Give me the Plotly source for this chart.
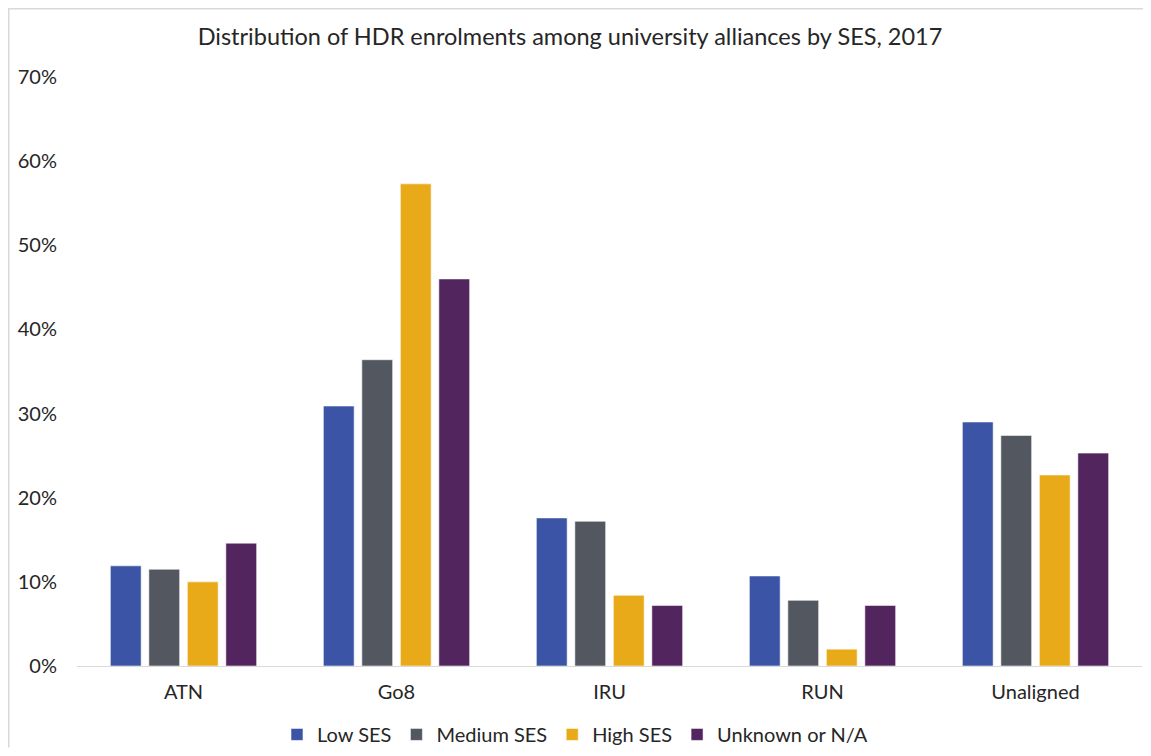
import plotly.graph_objects as go

categories = ["ATN", "Go8", "IRU", "RUN", "Unaligned"]
low_ses = [0.119, 0.309, 0.176, 0.107, 0.290]
medium_ses = [0.115, 0.364, 0.172, 0.078, 0.274]
high_ses = [0.100, 0.573, 0.084, 0.020, 0.227]
unknown_ses = [0.146, 0.460, 0.072, 0.072, 0.253]
series_names = ["Low SES", "Medium SES", "High SES", "Unknown or N/A"]
y_ticks = [0, 0.1, 0.2, 0.3, 0.4, 0.5, 0.6, 0.7]
title_text = "Distribution of HDR enrolments among university alliances by SES, 2017"

colors = ["#3B54A5", "#53575F", "#E8AA18", "#52255F"]
font_family = "Lato, 'Open Sans', sans-serif"
text_color = "#262626"

fig = go.Figure()
for name, vals, col in zip(series_names, [low_ses, medium_ses, high_ses, unknown_ses], colors):
    fig.add_trace(go.Bar(
        x=categories, y=vals, name=name,
        marker=dict(color=col, line=dict(color="rgba(255,255,255,0.55)", width=1)),
    ))

# page body has an 8px margin, so the figure is drawn 8px in from the window edge;
# keep the figure small enough that no scrollbars appear
W, H = 1135, 740
ml, mr, mt, mb = 69, 1, 69, 81.5
pw, ph = W - ml - mr, H - mt - mb

def px_x(p):
    return (p - ml) / pw

def px_y(p):
    return (H - mb - p) / ph

fig.update_layout(
    width=W, height=H,
    margin=dict(l=ml, r=mr, t=mt, b=mb, autoexpand=False),
    paper_bgcolor="white", plot_bgcolor="white",
    barmode="group", bargap=0.277, bargroupgap=0.2,
    font=dict(family=font_family, size=20, color=text_color),
    title=dict(text=title_text, x=562 / W, xanchor="center", y=1 - 29 / H, yanchor="middle",
               font=dict(family=font_family, size=23.5, color=text_color)),
    legend=dict(orientation="h", x=px_x(567), xanchor="center", y=px_y(727), yanchor="middle",
                font=dict(family=font_family, size=20, color=text_color),
                itemwidth=30, traceorder="normal"),
    xaxis=dict(showline=True, linecolor="#D9D9D9", linewidth=1, showgrid=False,
               ticks="", ticklabelstandoff=8, tickfont=dict(size=20)),
    yaxis=dict(range=[0, 0.7], tickvals=y_ticks, tickformat=".0%", showgrid=False,
               zeroline=False, showline=False, ticks="", ticklabelstandoff=19,
               tickfont=dict(size=20)),
    shapes=[
        dict(type="line", xref="paper", yref="paper", x0=px_x(0), x1=px_x(W),
             y0=px_y(0.75), y1=px_y(0.75), line=dict(color="#D9D9D9", width=1.5)),
        dict(type="line", xref="paper", yref="paper", x0=px_x(0.75), x1=px_x(0.75),
             y0=px_y(0), y1=px_y(H), line=dict(color="#D9D9D9", width=1.5)),
    ],
)

fig.write_html("out.html")
